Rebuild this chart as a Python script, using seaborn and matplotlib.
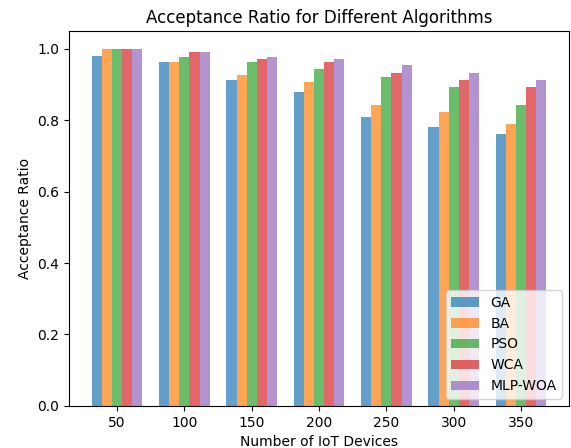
import matplotlib
matplotlib.use("Agg")
import matplotlib.pyplot as plt
import seaborn as sns
import pandas as pd

devices = ["50", "100", "150", "200", "250", "300", "350"]
algorithms = ["GA", "BA", "PSO", "WCA", "MLP-WOA"]
ga = [0.98, 0.963, 0.913, 0.88, 0.81, 0.782, 0.76]
ba = [1.0, 0.963, 0.927, 0.906, 0.843, 0.823, 0.789]
pso = [1.0, 0.978, 0.963, 0.942, 0.921, 0.894, 0.843]
wca = [1.0, 0.99, 0.97, 0.963, 0.933, 0.913, 0.894]
mlp_woa = [1.0, 0.99, 0.978, 0.97, 0.955, 0.933, 0.913]

series = [ga, ba, pso, wca, mlp_woa]
rows = []
for alg, vals in zip(algorithms, series):
    for d, v in zip(devices, vals):
        rows.append({"Devices": d, "Algorithm": alg, "Ratio": v})
df = pd.DataFrame(rows)

plt.rcParams["font.family"] = ["DejaVu Sans"]
plt.rcParams["font.size"] = 10

fig, ax = plt.subplots(figsize=(5.71, 4.48), dpi=100)
fig.subplots_adjust(left=0.121, right=0.9965, top=0.931, bottom=0.094)

palette = ["#1f77b4", "#ff7f0e", "#2ca02c", "#d62728", "#9467bd"]
sns.barplot(data=df, x="Devices", y="Ratio", hue="Algorithm", order=devices,
            hue_order=algorithms, palette=palette, width=0.75, saturation=1,
            alpha=0.7, linewidth=0, errorbar=None, ax=ax)

ax.set_xlim(-0.7125, 6.7125)
ax.set_ylim(0, 1.05)
ax.set_yticks([0.0, 0.2, 0.4, 0.6, 0.8, 1.0])
ax.set_xlabel("Number of IoT Devices", fontsize=10)
ax.set_ylabel("Acceptance Ratio", fontsize=10)
ax.set_title("Acceptance Ratio for Different Algorithms", fontsize=12)
ax.legend(loc="lower right", fontsize=10, title=None)

fig.savefig("out.png", dpi=100)
